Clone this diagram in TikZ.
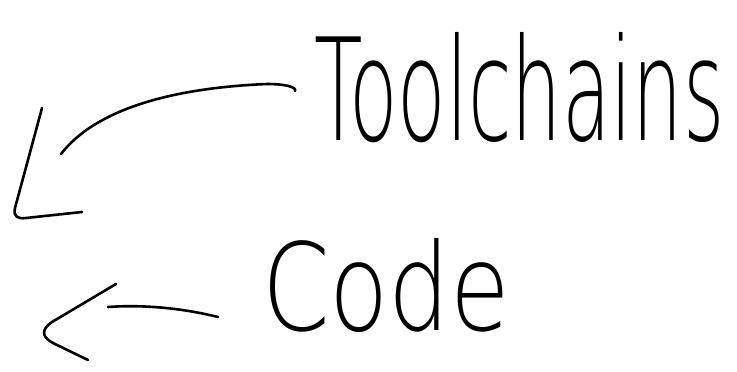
\documentclass[tikz,border=0pt]{standalone}
\usepackage{fontspec}
\newfontfamily\hand{DejaVuSans-ExtraLight.ttf}
\begin{document}
\begin{tikzpicture}[x=1pt,y=-1pt,
  pen/.style={line width=2.6pt,line cap=round,line join=round,black},
  word/.style={inner sep=0pt,outer sep=0pt,anchor=base west}]
\useasboundingbox (0,0) rectangle (737,372);
\node[word] (tool) at (314,140) {\resizebox{410pt}{108pt}{\hand Toolchains}};
\node[word] (code) at (262,330) {\resizebox{248pt}{92pt}{\hand Code}};
\coordinate (t1) at (295,91);
\coordinate (t2) at (61,154);
\coordinate (h1) at (42,108);
\coordinate (h2) at (82,212);
\coordinate (c1) at (218,317);
\coordinate (c2) at (108,307);
\coordinate (k1) at (116,284);
\coordinate (k2) at (88,360);
\draw[pen] (t1) .. controls (297,87) and (285,84) .. (267,84)
  .. controls (170,88) and (95,110) .. (t2);
\draw[pen] (h1) -- (15,208) .. controls (13,217) and (18,219) .. (26,218) -- (h2);
\draw[pen] (c1) .. controls (190,310) and (150,304) .. (c2);
\draw[pen] (k1) -- (52,322) .. controls (40,330) and (42,338) .. (55,344) -- (k2);
\end{tikzpicture}
\end{document}
